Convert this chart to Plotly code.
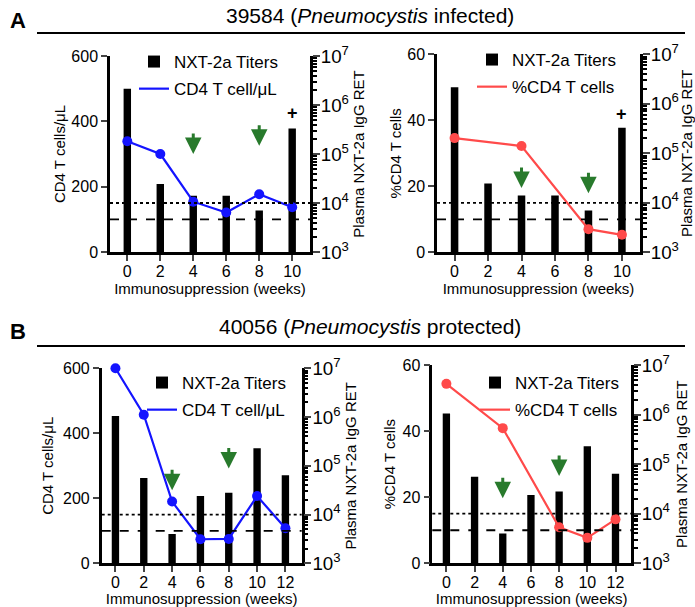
import plotly.graph_objects as go

W, H = 695, 607

# ---------------- data ----------------
weeks_a = [0, 2, 4, 6, 8, 10]
titers_a = [2150000, 24400, 14000, 14000, 7000, 330000]
cd4_count_a = [339, 300, 154, 121, 177, 137]
pct_weeks_a = [0, 4, 8, 10]
cd4_pct_a = [34.6, 32.2, 7.0, 5.3]

weeks_b = [0, 2, 4, 6, 8, 10, 12]
titers_b = [1050000, 56000, 4000, 24000, 28000, 230000, 64000]
cd4_count_b = [600, 457, 190, 74, 75, 207, 108]
pct_weeks_b = [0, 4, 8, 10, 12]
cd4_pct_b = [54.3, 40.9, 10.9, 7.7, 13.3]

count_thresholds = [150, 100]   # dotted, dashed (CD4 cells/uL axis)
pct_thresholds = [15, 10]       # dotted, dashed (%CD4 axis)

arrow_weeks = [4, 8]
arrows_count_a = [300, 325]
arrows_pct_a = [19.5, 17.9]
arrows_count_b = [225, 292]
arrows_pct_b = [19.7, 26.4]
plus_week_a = 10
plus_count_a = 426
plus_pct_a = 41.9

title_a = "39584 (<i>Pneumocystis</i> infected)"
title_b = "40056 (<i>Pneumocystis</i> protected)"
xlabel = "Immunosuppression (weeks)"
right_label = "Plasma NXT-2a IgG RET"
bar_name = "NXT-2a Titers"

BLUE = "#1414ff"
RED = "#ff4a4a"
GREEN = "#287a2c"
FONT = "Liberation Sans, Arial, sans-serif"

# panel pixel boxes: (left, right, top, bottom)
panels = [
    dict(box=(110, 310, 56, 252), weeks=weeks_a, titers=titers_a, lx=weeks_a, ly=cd4_count_a,
         color=BLUE, name="CD4 T cell/μL", ytitle="CD4 T cells/μL", yrange=[0, 600], dtick=200,
         xrange=[-1.05, 11.08], bw=0.45, thr=count_thresholds, arrows=arrows_count_a,
         plus=plus_count_a, leg=(134, 44), lstand=3, rstand=6),
    dict(box=(437, 640, 54.3, 252.3), weeks=weeks_a, titers=titers_a, lx=pct_weeks_a, ly=cd4_pct_a,
         color=RED, name="%CD4 T cells", ytitle="%CD4 T cells", yrange=[0, 60], dtick=20,
         xrange=[-1.05, 11.08], bw=0.45, thr=pct_thresholds, arrows=arrows_pct_a,
         plus=plus_pct_a, leg=(472, 42), lstand=2, rstand=6),
    dict(box=(101.7, 301.7, 368.3, 563.3), weeks=weeks_b, titers=titers_b, lx=weeks_b, ly=cd4_count_b,
         color=BLUE, name="CD4 T cell/μL", ytitle="CD4 T cells/μL", yrange=[0, 600], dtick=200,
         xrange=[-0.97, 13.15], bw=0.52, thr=count_thresholds, arrows=arrows_count_b,
         plus=None, leg=(142, 365), lstand=6, rstand=6),
    dict(box=(432.3, 631, 365, 563.3), weeks=weeks_b, titers=titers_b, lx=pct_weeks_b, ly=cd4_pct_b,
         color=RED, name="%CD4 T cells", ytitle="%CD4 T cells", yrange=[0, 60], dtick=20,
         xrange=[-1.0, 13.1], bw=0.52, thr=pct_thresholds, arrows=arrows_pct_b,
         plus=None, leg=(475, 365), lstand=4, rstand=8),
]

fig = go.Figure()
shapes = []
annotations = []
layout = {}

for i, p in enumerate(panels):
    k = i + 1
    xa = "x" if k == 1 else f"x{k}"
    ylog_n = 2 * k - 1
    ylin_n = 2 * k
    ylog = "y" if ylog_n == 1 else f"y{ylog_n}"
    ylin = f"y{ylin_n}"
    legname = "legend" if k == 1 else f"legend{k}"
    l, r, t, b = p["box"]

    fig.add_trace(go.Bar(x=p["weeks"], y=p["titers"], xaxis=xa, yaxis=ylog, width=p["bw"],
                         marker=dict(color="black", line=dict(width=0)), name=bar_name,
                         legend=legname, legendgroup=f"b{k}"))
    fig.add_trace(go.Scatter(x=p["lx"], y=p["ly"], xaxis=xa, yaxis=ylin, mode="lines",
                             line=dict(color=p["color"], width=2.2), name=p["name"],
                             legend=legname, legendgroup=f"l{k}", cliponaxis=False))
    fig.add_trace(go.Scatter(x=p["lx"], y=p["ly"], xaxis=xa, yaxis=ylin, mode="markers",
                             marker=dict(color=p["color"], size=10), showlegend=False,
                             hoverinfo="skip", cliponaxis=False))

    tickfont = dict(family=FONT, size=16, color="black")
    titlefont = dict(family=FONT, size=15, color="black")
    layout["xaxis" if k == 1 else f"xaxis{k}"] = dict(
        domain=[l / W, r / W], anchor=ylog, range=p["xrange"], tickmode="array",
        tickvals=p["weeks"], ticks="outside", ticklen=6, tickwidth=2, showline=True,
        linewidth=2.5, linecolor="black", showgrid=False, zeroline=False, automargin=False,
        ticklabelstandoff=-3,
        tickfont=tickfont, title=dict(text=xlabel, font=titlefont, standoff=0))
    layout["yaxis" if ylog_n == 1 else f"yaxis{ylog_n}"] = dict(
        domain=[1 - b / H, 1 - t / H], anchor=xa, side="right", type="log", range=[3, 7],
        dtick=1, exponentformat="power", showexponent="all", ticks="outside", ticklen=7,
        tickwidth=2, minor=dict(ticks="outside", ticklen=4, tickwidth=1.5, dtick="D1",
                                tickcolor="black", showgrid=False),
        showline=True, linewidth=2.5, linecolor="black", showgrid=False, zeroline=False,
        automargin=False, tickfont=dict(family=FONT, size=15, color="black"),
        ticklabelstandoff=-2,
        title=dict(text=right_label, font=titlefont, standoff=p["rstand"]))
    layout[f"yaxis{ylin_n}"] = dict(
        overlaying=ylog, anchor=xa, side="left", range=p["yrange"], dtick=p["dtick"],
        ticks="outside", ticklen=6, tickwidth=2, showline=True, linewidth=2.5,
        linecolor="black", showgrid=False, zeroline=False, automargin=False, tickfont=tickfont,
        title=dict(text=p["ytitle"], font=titlefont, standoff=p["lstand"]))
    layout[legname] = dict(x=p["leg"][0] / W, y=1 - p["leg"][1] / H, xanchor="left",
                           yanchor="top", bgcolor="rgba(0,0,0,0)",
                           font=dict(family=FONT, size=17, color="black"),
                           tracegroupgap=2, traceorder="grouped")

    for val, dash in zip(p["thr"], ["dot", "dash"]):
        shapes.append(dict(type="line", xref=f"{xa} domain", yref=ylin, x0=0, x1=1,
                           y0=val, y1=val, line=dict(color="black", width=1.8, dash=dash),
                           layer="above"))
    for wk, yv in zip(arrow_weeks, p["arrows"]):
        annotations.append(dict(x=wk, y=yv, xref=xa, yref=ylin, text="", showarrow=True,
                                ax=0, ay=-22, arrowhead=2, arrowsize=1.1, arrowwidth=3,
                                arrowcolor=GREEN, standoff=0))
    if p["plus"] is not None:
        annotations.append(dict(x=plus_week_a, y=p["plus"], xref=xa, yref=ylin, text="<b>+</b>",
                                showarrow=False, xanchor="center", yanchor="middle",
                                font=dict(family=FONT, size=18, color="black")))

# headers
for lab, ttl, ly, ty, liney in [("A", title_a, 21, 16, 33), ("B", title_b, 331, 326, 346)]:
    annotations.append(dict(x=18 / W, y=1 - ly / H, xref="paper", yref="paper", text=f"<b>{lab}</b>",
                            showarrow=False, xanchor="center", yanchor="middle",
                            font=dict(family=FONT, size=22, color="black")))
    annotations.append(dict(x=370 / W, y=1 - ty / H, xref="paper", yref="paper", text=ttl,
                            showarrow=False, xanchor="center", yanchor="middle",
                            font=dict(family=FONT, size=21, color="black")))
    shapes.append(dict(type="line", xref="paper", yref="paper", x0=37 / W, x1=685 / W,
                       y0=1 - liney / H, y1=1 - liney / H, line=dict(color="black", width=2)))

fig.update_layout(width=W, height=H, margin=dict(l=0, r=0, t=0, b=0, pad=0, autoexpand=False),
                  plot_bgcolor="white", paper_bgcolor="white", shapes=shapes,
                  annotations=annotations, barmode="overlay",
                  font=dict(family=FONT, color="black"), **layout)

fig.write_html("out.html")
